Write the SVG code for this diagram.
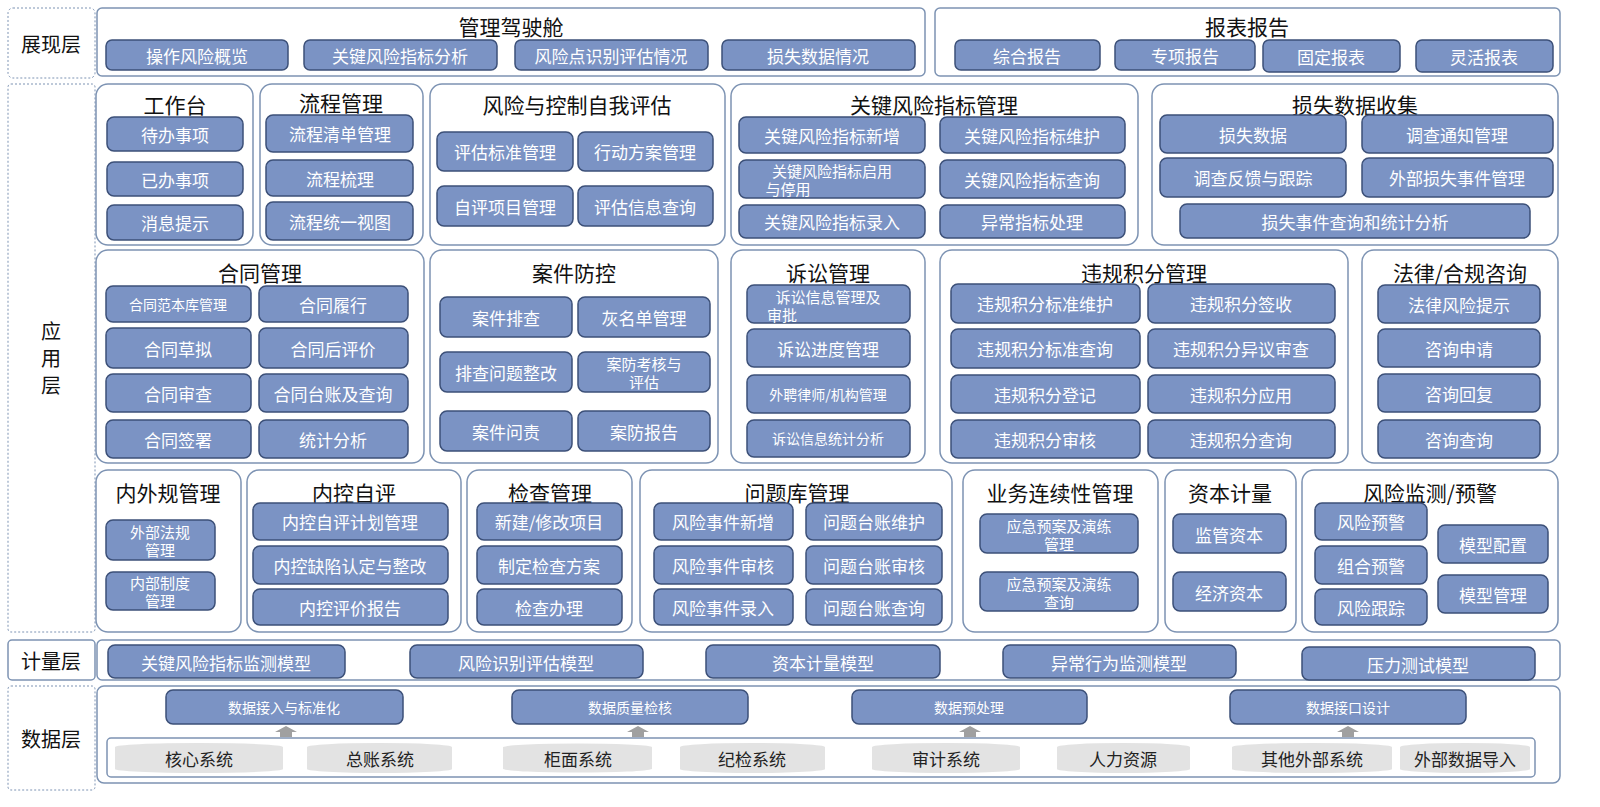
<svg xmlns="http://www.w3.org/2000/svg" width="1600" height="807" viewBox="0 0 1600 807">
<style>
text{font-family:"Microsoft YaHei","Noto Sans CJK SC",sans-serif;text-anchor:middle;dominant-baseline:central}
.c{fill:#fff;stroke:#7d93b3;stroke-width:1.5}
.l{fill:#fff;stroke:#7d93b3;stroke-width:1;stroke-dasharray:2 2}
.b{fill:#7b93c4;stroke:#3c5078;stroke-width:1.5}
.bt{fill:#fff;font-size:17px}
.s{font-size:14px}
.m{font-size:15px}
.t{fill:#111;font-size:21px}
.lt{fill:#111;font-size:20px}
.cy{fill:#e3e3e3}
.ct{fill:#222;font-size:17px}
</style>
<rect width="1600" height="807" fill="#fff"/>
<g id="layer-labels">
<rect class="l" x="8" y="8" width="87" height="70" rx="5"/><text class="lt" x="51" y="43">展现层</text>
<rect class="l" x="8" y="84" width="87" height="548" rx="3"/><text class="lt" x="51" y="330">应</text><text class="lt" x="51" y="357">用</text><text class="lt" x="51" y="384">层</text>
<rect class="c" x="8" y="640" width="87" height="40" rx="4"/><text class="lt" x="51" y="660">计量层</text>
<rect class="l" x="8" y="686" width="87" height="104" rx="3"/><text class="lt" x="51" y="738">数据层</text>
</g>
<g id="cockpit">
<rect class="c" x="97" y="8" width="828" height="68" rx="5"/><text class="t" x="511" y="26">管理驾驶舱</text>
<rect class="b" x="106" y="40" width="182" height="30" rx="6"/><text class="bt" x="197" y="55">操作风险概览</text>
<rect class="b" x="304" y="40" width="193" height="30" rx="6"/><text class="bt" x="400" y="55">关键风险指标分析</text>
<rect class="b" x="515" y="40" width="193" height="30" rx="6"/><text class="bt" x="611" y="55">风险点识别评估情况</text>
<rect class="b" x="722" y="40" width="193" height="30" rx="6"/><text class="bt" x="818" y="55">损失数据情况</text>
</g>
<g id="reports">
<rect class="c" x="935" y="8" width="625" height="68" rx="5"/><text class="t" x="1247" y="26">报表报告</text>
<rect class="b" x="955" y="40" width="145" height="30" rx="6"/><text class="bt" x="1027" y="55">综合报告</text>
<rect class="b" x="1115" y="40" width="140" height="30" rx="6"/><text class="bt" x="1185" y="55">专项报告</text>
<rect class="b" x="1263" y="40" width="137" height="32" rx="6"/><text class="bt" x="1331" y="56">固定报表</text>
<rect class="b" x="1416" y="40" width="137" height="32" rx="6"/><text class="bt" x="1484" y="56">灵活报表</text>
</g>
<g id="workbench">
<rect class="c" x="96" y="84" width="157" height="161" rx="12"/><text class="t" x="175" y="104">工作台</text>
<rect class="b" x="107" y="117" width="136" height="34" rx="7"/><text class="bt" x="175" y="134">待办事项</text>
<rect class="b" x="107" y="162" width="136" height="34" rx="7"/><text class="bt" x="175" y="179">已办事项</text>
<rect class="b" x="107" y="205" width="136" height="35" rx="7"/><text class="bt" x="175" y="222">消息提示</text>
</g>
<g id="process">
<rect class="c" x="260" y="84" width="163" height="161" rx="12"/><text class="t" x="341" y="102">流程管理</text>
<rect class="b" x="266" y="115" width="147" height="37" rx="7"/><text class="bt" x="340" y="133">流程清单管理</text>
<rect class="b" x="266" y="160" width="147" height="36" rx="7"/><text class="bt" x="340" y="178">流程梳理</text>
<rect class="b" x="266" y="202" width="147" height="38" rx="7"/><text class="bt" x="340" y="221">流程统一视图</text>
</g>
<g id="rcsa">
<rect class="c" x="430" y="84" width="295" height="161" rx="12"/><text class="t" x="577" y="104">风险与控制自我评估</text>
<rect class="b" x="437" y="132" width="136" height="39" rx="7"/><text class="bt" x="505" y="151">评估标准管理</text>
<rect class="b" x="578" y="132" width="135" height="39" rx="7"/><text class="bt" x="645" y="151">行动方案管理</text>
<rect class="b" x="437" y="186" width="136" height="40" rx="7"/><text class="bt" x="505" y="206">自评项目管理</text>
<rect class="b" x="578" y="186" width="135" height="40" rx="7"/><text class="bt" x="645" y="206">评估信息查询</text>
</g>
<g id="kri">
<rect class="c" x="731" y="84" width="407" height="161" rx="12"/><text class="t" x="934" y="104">关键风险指标管理</text>
<rect class="b" x="739" y="117" width="186" height="36" rx="7"/><text class="bt" x="832" y="135">关键风险指标新增</text>
<rect class="b" x="940" y="117" width="185" height="36" rx="7"/><text class="bt" x="1032" y="135">关键风险指标维护</text>
<rect class="b" x="739" y="160" width="186" height="38" rx="7"/><text class="bt m" x="832" y="170">关键风险指标启用</text><text class="bt m" x="788" y="188">与停用</text>
<rect class="b" x="940" y="160" width="185" height="38" rx="7"/><text class="bt" x="1032" y="179">关键风险指标查询</text>
<rect class="b" x="739" y="205" width="186" height="33" rx="7"/><text class="bt" x="832" y="221">关键风险指标录入</text>
<rect class="b" x="940" y="205" width="185" height="33" rx="7"/><text class="bt" x="1032" y="221">异常指标处理</text>
</g>
<g id="loss">
<rect class="c" x="1152" y="84" width="406" height="161" rx="12"/><text class="t" x="1355" y="104">损失数据收集</text>
<rect class="b" x="1160" y="115" width="186" height="38" rx="7"/><text class="bt" x="1253" y="134">损失数据</text>
<rect class="b" x="1362" y="115" width="191" height="38" rx="7"/><text class="bt" x="1457" y="134">调查通知管理</text>
<rect class="b" x="1160" y="158" width="186" height="39" rx="7"/><text class="bt" x="1253" y="177">调查反馈与跟踪</text>
<rect class="b" x="1362" y="158" width="191" height="39" rx="7"/><text class="bt" x="1457" y="177">外部损失事件管理</text>
<rect class="b" x="1180" y="204" width="350" height="34" rx="7"/><text class="bt" x="1355" y="221">损失事件查询和统计分析</text>
</g>
<g id="contract">
<rect class="c" x="96" y="250" width="328" height="213" rx="12"/><text class="t" x="260" y="272">合同管理</text>
<rect class="b" x="106" y="286" width="145" height="36" rx="7"/><text class="bt s" x="178" y="304">合同范本库管理</text>
<rect class="b" x="259" y="286" width="149" height="36" rx="7"/><text class="bt" x="333" y="304">合同履行</text>
<rect class="b" x="106" y="328" width="145" height="40" rx="7"/><text class="bt" x="178" y="348">合同草拟</text>
<rect class="b" x="259" y="328" width="149" height="40" rx="7"/><text class="bt" x="333" y="348">合同后评价</text>
<rect class="b" x="106" y="374" width="145" height="38" rx="7"/><text class="bt" x="178" y="393">合同审查</text>
<rect class="b" x="259" y="374" width="149" height="38" rx="7"/><text class="bt" x="333" y="393">合同台账及查询</text>
<rect class="b" x="106" y="420" width="145" height="38" rx="7"/><text class="bt" x="178" y="439">合同签署</text>
<rect class="b" x="259" y="420" width="149" height="38" rx="7"/><text class="bt" x="333" y="439">统计分析</text>
</g>
<g id="case">
<rect class="c" x="430" y="250" width="288" height="213" rx="12"/><text class="t" x="574" y="272">案件防控</text>
<rect class="b" x="440" y="297" width="132" height="40" rx="7"/><text class="bt" x="506" y="317">案件排查</text>
<rect class="b" x="578" y="297" width="132" height="40" rx="7"/><text class="bt" x="644" y="317">灰名单管理</text>
<rect class="b" x="440" y="352" width="132" height="40" rx="7"/><text class="bt" x="506" y="372">排查问题整改</text>
<rect class="b" x="578" y="352" width="132" height="40" rx="7"/><text class="bt m" x="644" y="363">案防考核与</text><text class="bt m" x="644" y="381">评估</text>
<rect class="b" x="440" y="411" width="132" height="40" rx="7"/><text class="bt" x="506" y="431">案件问责</text>
<rect class="b" x="578" y="411" width="132" height="40" rx="7"/><text class="bt" x="644" y="431">案防报告</text>
</g>
<g id="litigation">
<rect class="c" x="731" y="250" width="194" height="213" rx="12"/><text class="t" x="828" y="272">诉讼管理</text>
<rect class="b" x="747" y="285" width="163" height="38" rx="7"/><text class="bt m" x="828" y="296">诉讼信息管理及</text><text class="bt m" x="782" y="314">审批</text>
<rect class="b" x="747" y="329" width="163" height="38" rx="7"/><text class="bt" x="828" y="348">诉讼进度管理</text>
<rect class="b" x="747" y="375" width="163" height="38" rx="7"/><text class="bt s" x="828" y="394">外聘律师/机构管理</text>
<rect class="b" x="747" y="420" width="163" height="37" rx="7"/><text class="bt s" x="828" y="438">诉讼信息统计分析</text>
</g>
<g id="violation">
<rect class="c" x="940" y="250" width="408" height="213" rx="12"/><text class="t" x="1144" y="272">违规积分管理</text>
<rect class="b" x="951" y="284" width="189" height="39" rx="7"/><text class="bt" x="1045" y="303">违规积分标准维护</text>
<rect class="b" x="1148" y="284" width="187" height="39" rx="7"/><text class="bt" x="1241" y="303">违规积分签收</text>
<rect class="b" x="951" y="329" width="189" height="39" rx="7"/><text class="bt" x="1045" y="348">违规积分标准查询</text>
<rect class="b" x="1148" y="329" width="187" height="39" rx="7"/><text class="bt" x="1241" y="348">违规积分异议审查</text>
<rect class="b" x="951" y="375" width="189" height="38" rx="7"/><text class="bt" x="1045" y="394">违规积分登记</text>
<rect class="b" x="1148" y="375" width="187" height="38" rx="7"/><text class="bt" x="1241" y="394">违规积分应用</text>
<rect class="b" x="951" y="420" width="189" height="38" rx="7"/><text class="bt" x="1045" y="439">违规积分审核</text>
<rect class="b" x="1148" y="420" width="187" height="38" rx="7"/><text class="bt" x="1241" y="439">违规积分查询</text>
</g>
<g id="legal">
<rect class="c" x="1362" y="250" width="196" height="213" rx="12"/><text class="t" x="1460" y="272">法律/合规咨询</text>
<rect class="b" x="1378" y="285" width="162" height="38" rx="7"/><text class="bt" x="1459" y="304">法律风险提示</text>
<rect class="b" x="1378" y="329" width="162" height="38" rx="7"/><text class="bt" x="1459" y="348">咨询申请</text>
<rect class="b" x="1378" y="374" width="162" height="38" rx="7"/><text class="bt" x="1459" y="393">咨询回复</text>
<rect class="b" x="1378" y="420" width="162" height="38" rx="7"/><text class="bt" x="1459" y="439">咨询查询</text>
</g>
<g id="rules">
<rect class="c" x="96" y="470" width="145" height="162" rx="12"/><text class="t" x="168" y="492">内外规管理</text>
<rect class="b" x="106" y="520" width="109" height="40" rx="7"/><text class="bt m" x="160" y="531">外部法规</text><text class="bt m" x="160" y="549">管理</text>
<rect class="b" x="106" y="572" width="109" height="38" rx="7"/><text class="bt m" x="160" y="582">内部制度</text><text class="bt m" x="160" y="600">管理</text>
</g>
<g id="icsa">
<rect class="c" x="247" y="470" width="214" height="162" rx="12"/><text class="t" x="354" y="492">内控自评</text>
<rect class="b" x="253" y="503" width="195" height="37" rx="7"/><text class="bt" x="350" y="521">内控自评计划管理</text>
<rect class="b" x="253" y="546" width="195" height="38" rx="7"/><text class="bt" x="350" y="565">内控缺陷认定与整改</text>
<rect class="b" x="253" y="589" width="195" height="36" rx="7"/><text class="bt" x="350" y="607">内控评价报告</text>
</g>
<g id="inspection">
<rect class="c" x="467" y="470" width="165" height="162" rx="12"/><text class="t" x="550" y="492">检查管理</text>
<rect class="b" x="477" y="503" width="145" height="37" rx="7"/><text class="bt" x="549" y="521">新建/修改项目</text>
<rect class="b" x="477" y="546" width="145" height="38" rx="7"/><text class="bt" x="549" y="565">制定检查方案</text>
<rect class="b" x="477" y="589" width="145" height="36" rx="7"/><text class="bt" x="549" y="607">检查办理</text>
</g>
<g id="issues">
<rect class="c" x="640" y="470" width="312" height="162" rx="12"/><text class="t" x="797" y="492">问题库管理</text>
<rect class="b" x="654" y="503" width="139" height="37" rx="7"/><text class="bt" x="723" y="521">风险事件新增</text>
<rect class="b" x="806" y="503" width="136" height="37" rx="7"/><text class="bt" x="874" y="521">问题台账维护</text>
<rect class="b" x="654" y="546" width="139" height="38" rx="7"/><text class="bt" x="723" y="565">风险事件审核</text>
<rect class="b" x="806" y="546" width="136" height="38" rx="7"/><text class="bt" x="874" y="565">问题台账审核</text>
<rect class="b" x="654" y="589" width="139" height="36" rx="7"/><text class="bt" x="723" y="607">风险事件录入</text>
<rect class="b" x="806" y="589" width="136" height="36" rx="7"/><text class="bt" x="874" y="607">问题台账查询</text>
</g>
<g id="bcm">
<rect class="c" x="963" y="470" width="195" height="162" rx="12"/><text class="t" x="1060" y="492">业务连续性管理</text>
<rect class="b" x="980" y="514" width="158" height="39" rx="7"/><text class="bt m" x="1059" y="525">应急预案及演练</text><text class="bt m" x="1059" y="543">管理</text>
<rect class="b" x="980" y="572" width="158" height="39" rx="7"/><text class="bt m" x="1059" y="583">应急预案及演练</text><text class="bt m" x="1059" y="601">查询</text>
</g>
<g id="capital">
<rect class="c" x="1165" y="470" width="131" height="162" rx="12"/><text class="t" x="1230" y="492">资本计量</text>
<rect class="b" x="1173" y="514" width="113" height="39" rx="7"/><text class="bt" x="1229" y="534">监管资本</text>
<rect class="b" x="1173" y="572" width="113" height="39" rx="7"/><text class="bt" x="1229" y="592">经济资本</text>
</g>
<g id="monitor">
<rect class="c" x="1302" y="470" width="256" height="162" rx="12"/><text class="t" x="1430" y="492">风险监测/预警</text>
<rect class="b" x="1315" y="503" width="112" height="37" rx="7"/><text class="bt" x="1371" y="521">风险预警</text>
<rect class="b" x="1315" y="546" width="112" height="38" rx="7"/><text class="bt" x="1371" y="565">组合预警</text>
<rect class="b" x="1315" y="589" width="112" height="36" rx="7"/><text class="bt" x="1371" y="607">风险跟踪</text>
<rect class="b" x="1438" y="525" width="110" height="38" rx="7"/><text class="bt" x="1493" y="544">模型配置</text>
<rect class="b" x="1438" y="575" width="110" height="38" rx="7"/><text class="bt" x="1493" y="594">模型管理</text>
</g>
<g id="measure">
<rect class="c" x="97" y="640" width="1463" height="40" rx="5"/>
<rect class="b" x="108" y="645" width="237" height="33" rx="7"/><text class="bt" x="226" y="662">关键风险指标监测模型</text>
<rect class="b" x="410" y="645" width="233" height="33" rx="7"/><text class="bt" x="526" y="662">风险识别评估模型</text>
<rect class="b" x="706" y="645" width="234" height="33" rx="7"/><text class="bt" x="823" y="662">资本计量模型</text>
<rect class="b" x="1003" y="645" width="233" height="33" rx="7"/><text class="bt" x="1119" y="662">异常行为监测模型</text>
<rect class="b" x="1302" y="647" width="233" height="33" rx="7"/><text class="bt" x="1418" y="664">压力测试模型</text>
</g>
<g id="data">
<rect class="c" x="97" y="686" width="1463" height="97" rx="7"/>
<rect class="b" x="166" y="690" width="237" height="34" rx="7"/><text class="bt s" x="284" y="707">数据接入与标准化</text>
<rect class="b" x="512" y="690" width="236" height="34" rx="7"/><text class="bt s" x="630" y="707">数据质量检核</text>
<rect class="b" x="852" y="690" width="235" height="34" rx="7"/><text class="bt s" x="969" y="707">数据预处理</text>
<rect class="b" x="1230" y="690" width="236" height="34" rx="7"/><text class="bt s" x="1348" y="707">数据接口设计</text>
<rect class="c" x="107" y="738" width="1428" height="39" rx="4"/>
</g>
<g id="connectors" fill="#a0a0a0">
<path d="M280 737v-5h-5l11-6 11 6h-5v5z"/>
<path d="M632 737v-5h-5l11-6 11 6h-5v5z"/>
<path d="M964 737v-5h-5l11-6 11 6h-5v5z"/>
<path d="M1342 737v-5h-5l11-6 11 6h-5v5z"/>
</g>
<g id="sources">
<path class="cy" d="M115 747a84 4 0 0 1 168 0v22a84 4 0 0 1-168 0z"/><text class="ct" x="199" y="758">核心系统</text>
<path class="cy" d="M307 747a72 4 0 0 1 145 0v22a72 4 0 0 1-145 0z"/><text class="ct" x="380" y="758">总账系统</text>
<path class="cy" d="M503 747a75 4 0 0 1 149 0v22a75 4 0 0 1-149 0z"/><text class="ct" x="578" y="758">柜面系统</text>
<path class="cy" d="M680 747a72 4 0 0 1 145 0v22a72 4 0 0 1-145 0z"/><text class="ct" x="752" y="758">纪检系统</text>
<path class="cy" d="M872 747a74 4 0 0 1 148 0v22a74 4 0 0 1-148 0z"/><text class="ct" x="946" y="758">审计系统</text>
<path class="cy" d="M1057 747a66 4 0 0 1 133 0v22a66 4 0 0 1-133 0z"/><text class="ct" x="1123" y="758">人力资源</text>
<path class="cy" d="M1232 747a80 4 0 0 1 160 0v22a80 4 0 0 1-160 0z"/><text class="ct" x="1312" y="758">其他外部系统</text>
<path class="cy" d="M1400 747a65 4 0 0 1 130 0v22a65 4 0 0 1-130 0z"/><text class="ct" x="1465" y="758">外部数据导入</text>
</g>
</svg>
